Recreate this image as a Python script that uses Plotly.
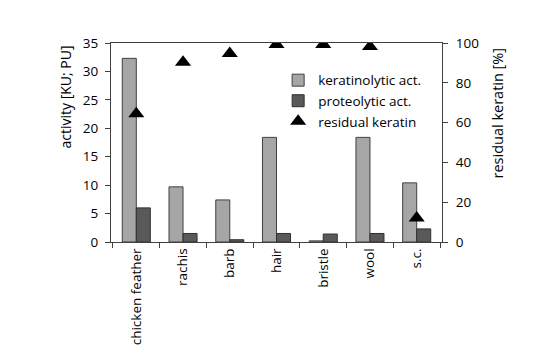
import plotly.graph_objects as go

categories = ["chicken feather", "rachis", "barb", "hair", "bristle", "wool", "s.c."]
keratinolytic = [32.3, 9.7, 7.4, 18.4, 0.2, 18.4, 10.4]
proteolytic = [6.0, 1.5, 0.4, 1.5, 1.4, 1.5, 2.3]
residual = [64.5, 90.3, 94.7, 99.3, 99.3, 98.2, 12.0]

font = "Open Sans"
fig = go.Figure()
fig.add_trace(go.Bar(x=categories, y=keratinolytic, name="keratinolytic act.",
                     marker=dict(color="#a6a6a6", line=dict(color="#404040", width=1))))
fig.add_trace(go.Bar(x=categories, y=proteolytic, name="proteolytic act.",
                     marker=dict(color="#595959", line=dict(color="#303030", width=1))))
fig.add_trace(go.Scatter(x=categories, y=residual, name="residual keratin", mode="markers",
                         yaxis="y2",
                         marker=dict(symbol="triangle-up", size=14, color="black")))

fig.update_layout(
    width=538, height=354,
    margin=dict(l=111, r=96, t=43, b=112),
    paper_bgcolor="white", plot_bgcolor="white",
    font=dict(family=font, size=13, color="black"),
    barmode="group", bargap=0.4, bargroupgap=0,
    showlegend=True,
    legend=dict(x=0.505, y=0.89, xanchor="left", yanchor="top",
                bgcolor="rgba(0,0,0,0)", font=dict(size=13.5), tracegroupgap=0,
                itemwidth=30),
    xaxis=dict(showline=True, linecolor="#404040", linewidth=1, mirror=True,
               ticks="outside", tickson="boundaries", ticklen=5, tickcolor="#404040",
               tickangle=-90, showgrid=False, tickfont=dict(size=13.5), automargin=False),
    yaxis=dict(range=[0, 35], dtick=5, showline=True, linecolor="#404040", linewidth=1,
               ticks="outside", ticklen=5, tickcolor="#404040", showgrid=False, zeroline=False,
               tickfont=dict(size=13.5), ticklabelstandoff=4, automargin=False),
    yaxis2=dict(range=[0, 100], dtick=20, overlaying="y", side="right",
                showline=True, linecolor="#404040", linewidth=1,
                ticks="outside", ticklen=5, tickcolor="#404040", showgrid=False, zeroline=False,
                tickfont=dict(size=13.5), ticklabelstandoff=5, automargin=False),
    annotations=[
        dict(text="activity [KU; PU]", textangle=-90, xref="paper", yref="paper",
             x=(65 - 111) / 331, y=(242 - 44) / 199, xanchor="center", yanchor="top",
             showarrow=False, font=dict(size=14)),
        dict(text="residual keratin [%]", textangle=-90, xref="paper", yref="paper",
             x=(497 - 111) / 331, y=(242 - 46) / 199, xanchor="center", yanchor="top",
             showarrow=False, font=dict(size=14.5)),
    ],
)

fig.write_html("out.html")
